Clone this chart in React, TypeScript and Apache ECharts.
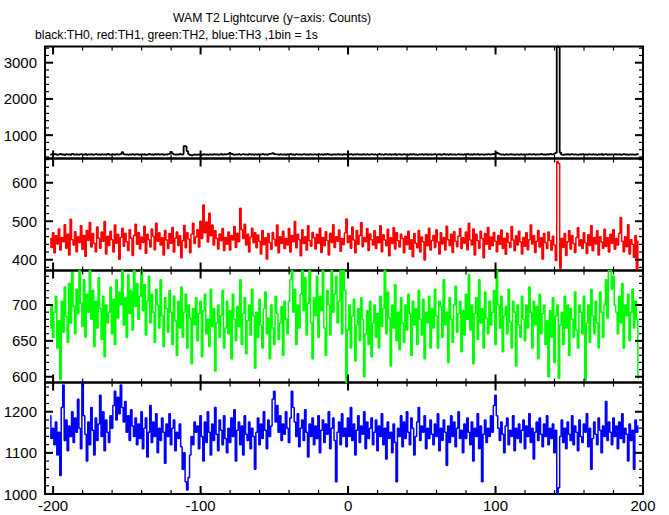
import React, { useEffect, useRef } from "react";
import * as echarts from "echarts";

const X_START = -202;
const X_MIN = -205.5;
const X_MAX = 200;
const xMajorTicks = [-200, -100, 0, 100, 200];
const xMinorTicks = [-200, -180, -160, -140, -120, -100, -80, -60, -40, -20, 0, 20, 40, 60, 80, 100, 120, 140, 160, 180, 200];

const th0 = [
  462,470,455,478,466,459,472,480,461,468,452,475,463,470,458,481,467,462,474,456,
  469,477,460,465,483,458,471,466,474,455,468,479,462,470,457,476,464,472,460,481,
  466,459,473,468,455,477,463,470,486,530,475,462,468,457,471,465,478,460,469,474,
  458,467,472,463,476,455,469,481,462,470,458,474,466,479,461,468,473,457,470,464,
  478,488,540,495,468,459,472,466,480,463,471,700,690,560,478,452,440,458,466,455,
  462,470,448,458,475,463,469,455,472,466,460,478,464,471,457,469,482,461,473,467,
  474,485,510,480,466,459,471,463,477,458,468,474,461,470,456,479,465,472,460,468,
  463,475,458,469,481,466,472,460,478,485,492,505,480,468,471,459,474,466,462,470,
  457,473,468,480,462,469,455,476,464,471,459,467,478,463,470,458,474,466,461,472,
  468,456,477,463,471,459,474,466,480,462,469,455,472,467,461,478,464,470,458,475,
  466,472,460,469,476,458,471,465,479,462,468,456,474,467,461,473,459,470,476,464,
  471,458,467,480,463,470,456,475,468,462,477,459,472,466,481,460,469,474,457,468,
  475,462,470,458,473,466,479,461,468,455,472,464,477,460,469,474,458,471,466,463,
  470,478,461,467,473,456,469,480,464,471,459,475,466,462,472,458,468,476,463,470,
  459,473,466,480,462,470,457,474,468,463,477,460,469,472,456,471,466,479,461,468,
  474,482,495,520,490,471,463,468,457,473,466,461,478,464,470,455,472,467,460,476,
  463,470,458,472,466,479,461,469,475,457,471,464,468,480,462,470,459,474,466,485,
  472,468,490,510,3440,3430,520,462,455,470,466,473,459,468,477,461,470,464,458,472,
  466,479,462,470,457,473,468,461,476,464,469,455,472,466,480,460,468,474,458,470,
  463,471,459,475,467,461,473,456,469,478,462,468,455,472,464,470,458,466,474,461,
];

const th1 = [
  455,432,470,418,462,441,480,425,458,447,491,430,466,412,505,452,438,473,421,460,
  445,488,427,463,409,476,450,497,433,468,442,421,485,456,430,472,448,499,415,461,
  437,474,452,420,490,443,466,401,458,482,435,469,447,424,478,456,411,463,492,440,
  471,428,459,445,487,417,466,452,433,480,461,426,495,448,470,438,457,412,476,451,
  429,468,443,484,420,456,472,437,462,405,449,489,431,470,454,418,466,495,442,459,
  478,433,500,455,542,470,498,446,521,462,490,438,475,455,428,467,449,481,424,458,
  440,472,425,463,451,486,432,469,447,534,478,455,492,438,466,420,459,482,444,470,
  431,464,448,415,476,439,457,402,468,445,427,471,453,436,490,418,460,442,474,429,
  455,438,481,420,463,447,499,431,466,452,410,478,442,460,425,488,449,435,471,457,
  428,466,443,482,419,458,436,473,450,412,469,445,491,432,460,448,477,422,455,439,
  470,506,445,462,430,485,451,418,476,440,463,497,434,458,447,481,424,467,452,438,
  475,429,460,444,488,421,465,451,436,479,410,457,442,483,428,470,449,433,466,455,
  418,461,439,474,427,452,408,468,443,431,476,420,459,447,399,465,436,482,425,450,
  463,432,478,446,415,470,441,458,425,487,452,437,466,419,473,448,434,461,481,429,
  457,443,472,426,495,451,438,480,412,466,449,430,474,455,405,468,440,484,427,459,
  436,471,448,421,463,440,477,429,456,414,469,445,432,486,451,423,462,438,474,447,
  415,458,435,470,426,452,490,441,463,419,448,476,433,457,402,468,444,429,472,450,
  425,461,438,398,655,650,378,455,432,468,411,447,476,428,463,442,419,458,483,436,
  452,429,470,444,416,465,437,488,423,458,441,475,412,460,446,430,479,435,457,420,
  466,443,478,427,455,438,469,510,448,421,460,434,491,415,452,440,406,463,375,448,
];

const th2 = [
  668,700,655,690,712,640,678,596,705,662,725,684,648,730,675,745,698,660,722,688,
  748,702,670,735,655,715,690,748,680,720,642,705,668,738,695,652,712,628,700,675,
  690,725,660,708,645,735,682,718,700,748,672,710,655,742,688,720,665,748,698,730,
  680,712,748,692,728,658,705,740,675,715,690,648,722,700,668,735,685,642,710,695,
  662,720,690,645,712,678,630,705,668,725,655,690,715,640,700,682,618,695,672,710,
  650,688,705,628,692,715,660,680,642,722,670,695,608,675,700,655,685,720,640,668,
  705,660,692,625,715,680,650,698,670,735,645,688,710,632,678,700,658,722,685,612,
  690,655,708,672,640,695,718,660,682,625,700,668,645,712,688,652,675,698,630,705,
  680,660,705,735,748,690,722,645,700,668,715,748,692,738,658,702,748,675,625,710,
  685,740,655,712,692,748,668,630,720,700,658,748,690,715,740,675,705,748,660,748,
  720,592,665,700,640,685,708,622,672,695,650,710,680,600,660,692,645,705,628,675,
  700,655,688,640,712,670,695,748,660,718,682,615,700,668,728,650,690,638,710,675,
  648,700,665,715,688,630,705,672,695,645,720,680,658,708,625,690,675,712,640,695,
  668,722,685,640,705,698,655,735,672,690,620,710,680,648,700,726,662,688,705,635,
  692,658,715,680,742,665,700,618,688,710,652,735,675,695,640,718,682,660,705,672,
  690,720,645,748,700,668,712,635,685,698,660,722,676,640,705,690,615,700,672,655,
  712,680,650,700,668,725,690,640,705,672,698,625,715,660,688,700,645,678,600,692,
  655,710,620,685,700,598,672,690,645,712,668,700,630,695,680,655,718,665,640,700,
  690,660,712,595,675,700,648,722,685,660,705,675,640,718,690,655,700,735,682,748,
  748,722,740,700,690,660,712,675,730,640,700,685,715,650,690,722,668,705,680,598,
];

const th3 = [
  1190,1135,1160,1120,1175,1095,1150,1045,1210,1265,1130,1180,1105,1165,1140,1200,1125,1185,1150,1230,
  1160,1110,1271,1190,1145,1080,1175,1120,1210,1155,1095,1185,1130,1170,1240,1140,1200,1105,1180,1150,
  1125,1190,1160,1215,1250,1180,1235,1195,1265,1210,1175,1225,1150,1190,1130,1205,1165,1140,1185,1120,
  1170,1135,1200,1110,1160,1185,1090,1150,1215,1125,1175,1140,1195,1100,1160,1130,1185,1150,1075,1170,
  1140,1195,1120,1160,1180,1105,1150,1135,1170,1115,1060,1100,1030,1010,1040,1095,1140,1120,1175,1150,
  1165,1110,1190,1140,1080,1175,1125,1200,1150,1095,1170,1130,1210,1145,1105,1180,1155,1120,1190,1135,
  1100,1160,1125,1185,1140,1205,1080,1155,1175,1120,1165,1095,1190,1145,1130,1175,1110,1160,1140,1060,
  1150,1185,1120,1170,1135,1200,1155,1110,1180,1140,1165,1230,1250,1175,1215,1150,1190,1130,1170,1145,
  1200,1160,1125,1185,1250,1210,1175,1140,1195,1115,1160,1180,1130,1205,1150,1090,1170,1140,1185,1120,
  1165,1135,1190,1100,1155,1180,1125,1170,1145,1200,1110,1160,1185,1130,1030,1150,1175,1120,1195,1140,
  1160,1115,1185,1140,1210,1130,1170,1095,1155,1190,1125,1165,1145,1200,1110,1175,1135,1160,1185,1120,
  1150,1180,1105,1165,1140,1195,1120,1160,1085,1175,1135,1150,1100,1170,1125,1030,1160,1140,1190,1115,
  1175,1135,1200,1150,1120,1185,1160,1095,1140,1175,1210,1130,1165,1150,1190,1110,1160,1135,1180,1145,
  1120,1170,1140,1195,1105,1160,1130,1180,1150,1070,1165,1125,1190,1140,1175,1115,1160,1200,1135,1155,
  1100,1170,1135,1185,1150,1120,1175,1080,1160,1140,1195,1110,1165,1030,1145,1180,1125,1160,1140,1190,
  1150,1215,1240,1190,1160,1130,1175,1145,1100,1165,1185,1120,1155,1140,1190,1105,1160,1135,1170,1125,
  1155,1180,1110,1165,1140,1195,1125,1160,1085,1150,1175,1130,1185,1145,1115,1170,1140,1190,1120,1160,
  1135,1170,1100,1155,1000,1015,1140,1180,1125,1160,1110,1175,1145,1130,1190,1120,1165,1150,1105,1180,
  1140,1125,1170,1150,1195,1115,1160,1060,1135,1175,1145,1120,1185,1155,1100,1165,1140,1225,1130,1175,
  1150,1120,1185,1140,1165,1110,1175,1135,1195,1125,1160,1145,1080,1170,1130,1155,1060,1180,1150,1165,
];

const colors = ["#000000", "#ff0000", "#00ff00", "#0000ff"];
const yMins = [356, 372, 592, 1000];
const yMaxs = [3447, 663, 748, 1271];
const yMajor = [
  [1000, 2000, 3000],
  [400, 500, 600],
  [600, 650, 700],
  [1000, 1100, 1200],
];
const yMinor = [
  [400, 600, 800, 1200, 1400, 1600, 1800, 2200, 2400, 2600, 2800, 3200, 3400],
  [380, 420, 440, 460, 480, 520, 540, 560, 580, 620, 640, 660],
  [610, 620, 630, 640, 660, 670, 680, 690, 710, 720, 730, 740],
  [1020, 1040, 1060, 1080, 1120, 1140, 1160, 1180, 1220, 1240, 1260],
];
const seriesData = [th0, th1, th2, th3];

const TITLE = "WAM T2 Lightcurve (y\u2212axis: Counts)";
const SUBTITLE = "black:TH0, red:TH1, green:TH2, blue:TH3 ,1bin = 1s";

const FONT = "'Liberation Sans', Arial, Helvetica, sans-serif";

export default function App() {
  const ref = useRef<HTMLDivElement>(null);
  useEffect(() => {
    if (!ref.current) return;
    const chart = echarts.init(ref.current, undefined, { renderer: "svg" });
    const tops = [46.5, 158.5, 270.5, 382.5];
    const heights = [112, 112, 112, 111.5];
    const grids = tops.map((t, g) => ({
      left: 45,
      width: 598,
      top: t,
      height: heights[g],
      containLabel: false,
      show: true,
      borderColor: "#000",
      borderWidth: 2,
      backgroundColor: "transparent",
      z: 3,
    }));
    const xAxis: any[] = [];
    const yAxis: any[] = [];
    for (let g = 0; g < 4; g++) {
      xAxis.push({
        type: "value",
        gridIndex: g,
        position: "bottom",
        min: X_MIN,
        max: X_MAX,
        axisLine: { show: false },
        axisTick: { show: false },
        axisLabel: {
          show: g === 3,
          customValues: xMajorTicks,
          formatter: (v: number) => String(v),
          color: "#000",
          fontSize: 15,
          fontFamily: FONT,
          margin: 4,
        },
        splitLine: { show: false },
      });
      yAxis.push({
        type: "value",
        gridIndex: g,
        position: "left",
        min: yMins[g],
        max: yMaxs[g],
        axisLine: { show: false },
        axisTick: { show: false },
        axisLabel: {
          show: true,
          customValues: yMajor[g],
          formatter: (v: number) => String(v),
          color: "#000",
          fontSize: 15,
          fontFamily: FONT,
          margin: 8,
        },
        splitLine: { show: false },
      });
    }
    const series = seriesData.map((arr, g) => ({
      type: "line",
      xAxisIndex: g,
      yAxisIndex: g,
      data: arr.map((v, i) => [X_START + i, v]),
      step: "middle",
      showSymbol: false,
      symbol: "none",
      clip: true,
      lineStyle: { color: colors[g], width: g === 0 ? 1.8 : 1.5 },
      silent: true,
    }));
    const texts: any[] = [
      {
        type: "text",
        x: 173,
        y: 18,
        style: { text: TITLE, fill: "#000", fontSize: 12.2, fontFamily: FONT, textVerticalAlign: "middle" },
      },
      {
        type: "text",
        x: 35,
        y: 35,
        style: { text: SUBTITLE, fill: "#000", fontSize: 12.2, fontFamily: FONT, textVerticalAlign: "middle" },
      },
    ];
    chart.setOption({
      animation: false,
      backgroundColor: "#ffffff",
      grid: grids,
      xAxis,
      yAxis,
      series,
      graphic: texts,
    });

    // tick marks (inside, on all four sides) placed through the axes' own scales
    const ticks: any[] = [];
    const tickLine = (x1: number, y1: number, x2: number, y2: number, w: number) => ({
      type: "line",
      silent: true,
      z: 10,
      shape: { x1, y1, x2, y2 },
      style: { stroke: "#000", lineWidth: w },
    });
    for (let g = 0; g < 4; g++) {
      const finder = { xAxisIndex: g, yAxisIndex: g };
      const addX = (vals: number[], len: number, w: number) => {
        for (const v of vals) {
          const pb = chart.convertToPixel(finder, [v, yMins[g]]) as number[];
          const pt = chart.convertToPixel(finder, [v, yMaxs[g]]) as number[];
          ticks.push(tickLine(pb[0], pb[1], pb[0], pb[1] - len, w));
          ticks.push(tickLine(pt[0], pt[1], pt[0], pt[1] + len, w));
        }
      };
      const addY = (vals: number[], len: number, w: number) => {
        for (const v of vals) {
          const pl = chart.convertToPixel(finder, [X_MIN, v]) as number[];
          const pr = chart.convertToPixel(finder, [X_MAX, v]) as number[];
          ticks.push(tickLine(pl[0], pl[1], pl[0] + len, pl[1], w));
          ticks.push(tickLine(pr[0], pr[1], pr[0] - len, pr[1], w));
        }
      };
      addX(xMinorTicks, 4, 1.2);
      addX(xMajorTicks, 8, 2);
      addY(yMinor[g], 4, 1.2);
      addY(yMajor[g], 8, 2);
    }
    chart.setOption({ graphic: [...texts, ...ticks] });
    return () => chart.dispose();
  }, []);
  return (
    <div
      ref={ref}
      style={{ position: "absolute", left: 0, top: 0, width: 669, height: 515, background: "#fff" }}
    />
  );
}
